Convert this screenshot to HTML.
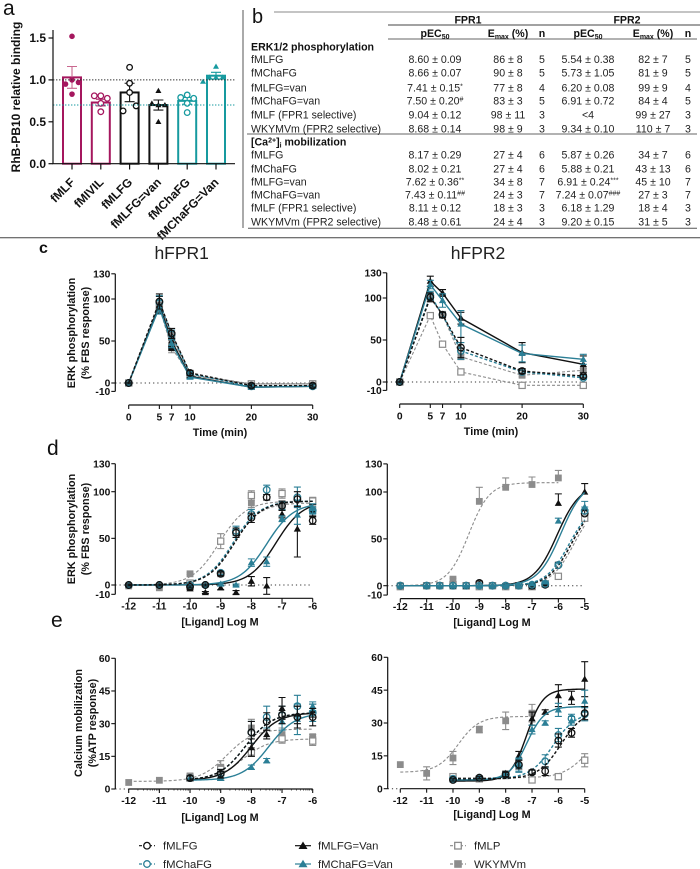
<!DOCTYPE html>
<html lang="en">
<head>
<meta charset="utf-8">
<title>Formyl peptide receptor chart</title>
<style>
html,body{margin:0;padding:0;background:#fff;width:700px;height:869px;overflow:hidden}
svg{display:block;font-family:"Liberation Sans",sans-serif}
.tb text{font-size:10.6px;fill:#222}
.tb .c{text-anchor:middle}
.tb .h{font-weight:bold;fill:#111}
.axt{font-weight:bold;font-size:10.8px;fill:#111;text-anchor:middle}
.lg{font-size:11.3px;fill:#222}
.pl{fill:#111}
</style>
</head>
<body>
<svg id="fig" width="700" height="869" viewBox="0 0 700 869" xmlns="http://www.w3.org/2000/svg">
<rect width="700" height="869" fill="#fff"/>

<text class="pl" x="3" y="15" font-size="21">a</text>
<text class="pl" x="252" y="23" font-size="20">b</text>
<text class="pl" x="39" y="253" font-size="16" font-weight="bold">c</text>
<text class="pl" x="47" y="455" font-size="21">d</text>
<text class="pl" x="51" y="627" font-size="21">e</text>

<g id="panelA">
<text transform="translate(20,97) rotate(-90)" text-anchor="middle" font-weight="bold" font-size="12" fill="#111">RhB-PB10 relative binding</text>
</g>

<line x1="243" y1="10" x2="243" y2="228" stroke="#555" stroke-width="1"/>
<line x1="0" y1="237.7" x2="700" y2="237.7" stroke="#444" stroke-width="1"/>

<g class="tb">
<line x1="274" y1="12" x2="700" y2="12" stroke="#888"/>
<line x1="388" y1="25" x2="700" y2="25" stroke="#444"/>
<line x1="388" y1="39" x2="697" y2="39" stroke="#666"/>
<line x1="247" y1="134" x2="697" y2="134" stroke="#666"/>
<line x1="248" y1="228.3" x2="697" y2="228.3" stroke="#555"/>
<text class="c h" x="468" y="23.5">FPR1</text>
<text class="c h" x="627" y="23.5">FPR2</text>
<text class="c h" x="435" y="37">pEC<tspan font-size="7" dy="2">50</tspan></text>
<text class="c h" x="508" y="37">E<tspan font-size="7" dy="2">max</tspan><tspan dy="-2"> (%)</tspan></text>
<text class="c h" x="542" y="37">n</text>
<text class="c h" x="588" y="37">pEC<tspan font-size="7" dy="2">50</tspan></text>
<text class="c h" x="653" y="37">E<tspan font-size="7" dy="2">max</tspan><tspan dy="-2"> (%)</tspan></text>
<text class="c h" x="688" y="37">n</text>
<text class="h" x="251" y="50.5">ERK1/2 phosphorylation</text>
<text class="h" x="251" y="145.7">[Ca<tspan font-size="7" dy="-3">2+</tspan><tspan dy="3">]</tspan><tspan font-size="7" dy="2">i</tspan><tspan dy="-2"> mobilization</tspan></text>

<g transform="translate(0,63)"><text x="251">fMLFG</text><text class="c" x="435">8.60 ± 0.09</text><text class="c" x="508">86 ± 8</text><text class="c" x="542">5</text><text class="c" x="588">5.54 ± 0.38</text><text class="c" x="653">82 ± 7</text><text class="c" x="688">5</text></g>
<g transform="translate(0,76.4)"><text x="251">fMChaFG</text><text class="c" x="435">8.66 ± 0.07</text><text class="c" x="508">90 ± 8</text><text class="c" x="542">5</text><text class="c" x="588">5.73 ± 1.05</text><text class="c" x="653">81 ± 9</text><text class="c" x="688">5</text></g>
<g transform="translate(0,91.7)"><text x="251">fMLFG=van</text><text class="c" x="435">7.41 ± 0.15<tspan font-size="7" dy="-3">*</tspan></text><text class="c" x="508">77 ± 8</text><text class="c" x="542">4</text><text class="c" x="588">6.20 ± 0.08</text><text class="c" x="653">99 ± 9</text><text class="c" x="688">4</text></g>
<g transform="translate(0,104.7)"><text x="251">fMChaFG=van</text><text class="c" x="435">7.50 ± 0.20<tspan font-size="7" dy="-3">#</tspan></text><text class="c" x="508">83 ± 3</text><text class="c" x="542">5</text><text class="c" x="588">6.91 ± 0.72</text><text class="c" x="653">84 ± 4</text><text class="c" x="688">5</text></g>
<g transform="translate(0,118.7)"><text x="251">fMLF (FPR1 selective)</text><text class="c" x="435">9.04 ± 0.12</text><text class="c" x="508">98 ± 11</text><text class="c" x="542">3</text><text class="c" x="588">&lt;4</text><text class="c" x="653">99 ± 27</text><text class="c" x="688">3</text></g>
<g transform="translate(0,132.4)"><text x="251">WKYMVm (FPR2 selective)</text><text class="c" x="435">8.68 ± 0.14</text><text class="c" x="508">98 ± 9</text><text class="c" x="542">3</text><text class="c" x="588">9.34 ± 0.10</text><text class="c" x="653">110 ± 7</text><text class="c" x="688">3</text></g>

<g transform="translate(0,158.7)"><text x="251">fMLFG</text><text class="c" x="435">8.17 ± 0.29</text><text class="c" x="508">27 ± 4</text><text class="c" x="542">6</text><text class="c" x="588">5.87 ± 0.26</text><text class="c" x="653">34 ± 7</text><text class="c" x="688">6</text></g>
<g transform="translate(0,172.4)"><text x="251">fMChaFG</text><text class="c" x="435">8.02 ± 0.21</text><text class="c" x="508">27 ± 4</text><text class="c" x="542">6</text><text class="c" x="588">5.88 ± 0.21</text><text class="c" x="653">43 ± 13</text><text class="c" x="688">6</text></g>
<g transform="translate(0,185.7)"><text x="251">fMLFG=van</text><text class="c" x="435">7.62 ± 0.36<tspan font-size="7" dy="-3">**</tspan></text><text class="c" x="508">34 ± 8</text><text class="c" x="542">7</text><text class="c" x="588">6.91 ± 0.24<tspan font-size="7" dy="-3">***</tspan></text><text class="c" x="653">45 ± 10</text><text class="c" x="688">7</text></g>
<g transform="translate(0,198.7)"><text x="251">fMChaFG=van</text><text class="c" x="435">7.43 ± 0.11<tspan font-size="7" dy="-3">##</tspan></text><text class="c" x="508">24 ± 3</text><text class="c" x="542">7</text><text class="c" x="588">7.24 ± 0.07<tspan font-size="7" dy="-3">###</tspan></text><text class="c" x="653">27 ± 3</text><text class="c" x="688">7</text></g>
<g transform="translate(0,211.7)"><text x="251">fMLF (FPR1 selective)</text><text class="c" x="435">8.11 ± 0.12</text><text class="c" x="508">18 ± 3</text><text class="c" x="542">3</text><text class="c" x="588">6.18 ± 1.29</text><text class="c" x="653">18 ± 4</text><text class="c" x="688">3</text></g>
<g transform="translate(0,225.7)"><text x="251">WKYMVm (FPR2 selective)</text><text class="c" x="435">8.48 ± 0.61</text><text class="c" x="508">24 ± 4</text><text class="c" x="542">3</text><text class="c" x="588">9.20 ± 0.15</text><text class="c" x="653">31 ± 5</text><text class="c" x="688">3</text></g>
</g>

<text x="181.7" y="259" text-anchor="middle" font-size="17.5" fill="#222">hFPR1</text>
<text x="478" y="259" text-anchor="middle" font-size="17.5" fill="#222">hFPR2</text>

<g>
<text class="axt" transform="translate(75,333) rotate(-90)">ERK phosphorylation</text>
<text class="axt" transform="translate(89,333) rotate(-90)">(% FBS response)</text>
<text class="axt" transform="translate(75,529) rotate(-90)">ERK phosphorylation</text>
<text class="axt" transform="translate(89,529) rotate(-90)">(% FBS response)</text>
<text class="axt" transform="translate(82,723) rotate(-90)">Calcium mobilization</text>
<text class="axt" transform="translate(96,723) rotate(-90)">(%ATP response)</text>
</g>
<g>
<text class="axt" x="220" y="436">Time (min)</text>
<text class="axt" x="491" y="435">Time (min)</text>
<text class="axt" x="220" y="625.5">[Ligand] Log M</text>
<text class="axt" x="492" y="626">[Ligand] Log M</text>
<text class="axt" x="220" y="821">[Ligand] Log M</text>
<text class="axt" x="492" y="818">[Ligand] Log M</text>
</g>

<g>
<g><line x1="139" y1="845.7" x2="155" y2="845.7" stroke="#111" stroke-width="1.2" stroke-dasharray="3 2"/><circle cx="147" cy="845.7" r="3.3" fill="#fff" stroke="#111" stroke-width="1.3"/><text class="lg" x="163" y="849.7">fMLFG</text></g>
<g><line x1="139" y1="864" x2="155" y2="864" stroke="#2b7f96" stroke-width="1.2" stroke-dasharray="3 2"/><circle cx="147" cy="864" r="3.3" fill="#fff" stroke="#2b7f96" stroke-width="1.3"/><text class="lg" x="163" y="868">fMChaFG</text></g>
<g><line x1="295" y1="845.7" x2="311" y2="845.7" stroke="#111" stroke-width="1.2"/><polygon points="303,841.5 307.5,849 298.5,849" fill="#111"/><text class="lg" x="318" y="849.7">fMLFG=Van</text></g>
<g><line x1="295" y1="864" x2="311" y2="864" stroke="#2b7f96" stroke-width="1.2"/><polygon points="303,859.8 307.5,867.3 298.5,867.3" fill="#2b7f96"/><text class="lg" x="318" y="868">fMChaFG=Van</text></g>
<g><line x1="450" y1="845.7" x2="466" y2="845.7" stroke="#8c8c8c" stroke-width="1.2" stroke-dasharray="3 2"/><rect x="454.7" y="842.4" width="6.6" height="6.6" fill="#fff" stroke="#8c8c8c" stroke-width="1.3"/><text class="lg" x="474" y="849.7">fMLP</text></g>
<g><line x1="450" y1="864" x2="466" y2="864" stroke="#8c8c8c" stroke-width="1.2" stroke-dasharray="3 2"/><rect x="454.2" y="860.2" width="7.6" height="7.6" fill="#8c8c8c"/><text class="lg" x="474" y="868">WKYMVm</text></g>
</g>

<g id="charts"></g>
</svg>

<script>
/* ---- panel a: binding bars ---- */
const ligandsA = ['fMLF','fMIVIL','fMLFG','fMLFG=van','fMChaFG','fMChaFG=Van'];
const meansA = [1.03,0.73,0.85,0.70,0.75,1.05];
const semsA = [0.13,0.04,0.11,0.06,0.04,0.04];
const pointsFMLF = [1.52,0.83,0.95,0.97,1.0];
const pointsFMIVIL = [0.81,0.81,0.78,0.62,0.72];
const pointsFMLFG = [1.15,0.96,0.85,0.69,0.63];
const pointsFMLFGvan = [0.87,0.72,0.70,0.70,0.50];
const pointsFMChaFG = [0.82,0.79,0.78,0.72,0.61];
const pointsFMChaFGvan = [1.16,1.03,1.03,1.03,0.98];
const slotsFMLF = [0,0,-1,1,0];
const slotsFMIVIL = [0,-1,1,0,0];
const slotsFMLFG = [0,0,0,1,-1];
const slotsFMLFGvan = [0,-1,1,0,0];
const slotsFMChaFG = [0,-1,1,0,0];
const slotsFMChaFGvan = [0,0,1,-1,-2];
const refLinesA = [1.0,0.7];
const ticksA = [0,0.5,1.0,1.5];

/* ---- shared ---- */
const seriesNames = ['fMLFG','fMChaFG','fMLFG=Van','fMChaFG=Van','fMLP','WKYMVm'];
const timeTicks = [0,5,7,10,20,30];
const percentTicks = [130,100,50,0,-10];
const calciumTicks = [60,45,30,15,0];
const doseTicksLeft = [-12,-11,-10,-9,-8,-7,-6];
const doseTicksRight = [-12,-11,-10,-9,-8,-7,-6,-5];

/* ---- panel c left: time course hFPR1 ---- */
const cL_fMLFG = [0,97,59,12,-3,-3];
const cL_fMChaFG = [0,96,58,11,-4,-4];
const cL_FVan = [0,93,50,8,-5,-4];
const cL_CVan = [0,90,47,7,-5,-4];
const cL_fMLP = [0,92,55,10,-1,-1];
const cL_WKY = [0,90,42,9,-1,-1];
const cL_fMLFG_err = [1,9,6,3,2,2];
const cL_fMChaFG_err = [1,8,5,2,2,2];
const cL_FVan_err = [1,10,7,2,2,2];
const cL_CVan_err = [1,8,5,2,2,2];
const cL_fMLP_err = [1,6,5,2,2,2];
const cL_WKY_err = [1,6,6,2,2,2];
const cL_darkSquares = [true,false,true,false,false,false];

/* ---- panel c right: time course hFPR2 ---- */
const cR_fMLFG = [0,101,80,41,13,7];
const cR_fMChaFG = [0,103,80,37,12,5];
const cR_FVan = [0,120,106,76,35,21];
const cR_CVan = [0,116,97,69,34,27];
const cR_fMLP = [0,79,45,12,-4,-4];
const cR_WKY = [0,100,80,30,8,14];
const cR_fMLFG_err = [1,5,3,12,3,2];
const cR_fMChaFG_err = [1,5,3,10,2,2];
const cR_FVan_err = [1,6,4,7,12,10];
const cR_CVan_err = [1,5,8,16,10,6];
const cR_fMLP_err = [1,2,2,2,1,1];
const cR_WKY_err = [1,5,4,3,2,2];

/* ---- panel d left: ERK dose response hFPR1 ---- */
const dL_doses = [-12,-11,-10,-9.5,-9,-8.5,-8,-7.5,-7,-6.5,-6];
const dL_fMLFG = [0,0,-2,0,12,56,72,94,85,92,69];
const dL_fMChaFG = [0,0,0,0,13,58,76,102,85,94,80];
const dL_FVan = [0,0,-4,-8,-3,-8,4,-1,76,60,80];
const dL_CVan = [0,0,-1,0,1,0,24,25,71,75,82];
const dL_fMLP = [null,null,2,null,47,null,96,null,98,null,90];
const dL_WKY = [-1,-3,12,null,12,null,88,null,84,null,80];
const dL_fMLFG_err = [1,1,1,1,2,5,5,3,5,8,4];
const dL_fMChaFG_err = [1,1,1,1,2,5,5,5,4,11,4];
const dL_FVan_err = [1,1,1,1,2,2,5,9,4,30,6];
const dL_CVan_err = [1,1,1,1,1,1,4,5,3,10,5];
const dL_fMLP_err = [0,0,1,0,8,0,5,0,5,0,4];
const dL_WKY_err = [1,1,1,0,2,0,5,0,4,0,3];
const dL_bottom = [0,0,0,0,0,0];
const dL_top = [90,90,90,88,90,88];
const dL_logEC50 = [-8.55,-8.6,-7.2,-7.5,-9.05,-8.6];
const dL_hill = [1,1,1,1,1,1];
const dL_from = [-12,-12,-12,-12,-12,-12];
const dL_to = [-6,-6,-6,-6,-6,-6];

/* ---- panel d right: ERK dose response hFPR2 ---- */
const dR_doses = [-12,-11,-10.5,-10,-9.5,-9,-8.5,-8,-7.5,-7,-6.5,-6,-5];
const dR_fMLFG = [0,0,0,0,0,3,0,0,0,0,1,22,77];
const dR_fMChaFG = [0,0,0,0,0,0,0,0,0,1,2,22,80];
const dR_FVan = [0,0,0,-1,-1,0,0,0,0,-1,2,88,100];
const dR_CVan = [0,0,0,0,0,0,0,0,0,2,4,69,84];
const dR_fMLP = [-1,0,0,1,0,-1,0,-1,0,-1,2,10,72];
const dR_WKY = [0,0,null,7,null,90,null,105,null,108,null,115,null];
const dR_fMLFG_err = [0,0,0,0,0,2,0,0,0,0,1,3,4];
const dR_fMChaFG_err = [0,0,0,0,0,0,0,0,0,0,1,2,4];
const dR_FVan_err = [0,0,0,0,0,0,0,0,0,0,1,10,9];
const dR_CVan_err = [0,0,0,0,0,0,0,0,0,0,1,3,6];
const dR_fMLP_err = [0,0,0,0,0,0,0,0,0,0,1,1,3];
const dR_WKY_err = [0,0,0,1,0,15,0,10,0,8,0,8,0];
const dR_bottom = [0,0,0,0,0,0];
const dR_top = [90,88,108,112,90,110];
const dR_logEC50 = [-5.5,-5.6,-6.05,-5.9,-5.4,-9.4];
const dR_hill = [1,1,1,1,1,1.1];
const dR_from = [-12,-12,-12,-12,-12,-12];
const dR_to = [-5,-5,-5,-5,-5,-6];

/* ---- panel e left: calcium hFPR1 ---- */
const eL_doses = [-12,-11,-10,-9,-8,-7.5,-7,-6.5,-6];
const eL_fMLFG = [null,null,5,7,26,31,34,33,33];
const eL_fMChaFG = [null,null,5,7,26,33,34,38,35];
const eL_FVan = [null,null,5,6,19,25,37,34,36];
const eL_CVan = [null,null,5,5,10,13,31,32,38];
const eL_fMLP = [null,null,5,9,17,null,23,null,22];
const eL_WKY = [3,4,6,10,28,null,25,null,24];
const eL_fMLFG_err = [0,0,1,2,5,4,4,5,4];
const eL_fMChaFG_err = [0,0,1,2,5,5,4,5,4];
const eL_FVan_err = [0,0,1,2,4,2,5,4,3];
const eL_CVan_err = [0,0,1,1,1,1,4,7,2];
const eL_fMLP_err = [0,0,1,2,2,0,2,0,2];
const eL_WKY_err = [0,0,1,3,4,0,3,0,1];
const eL_bottom = [4,4,4,4,4,3.5];
const eL_top = [35,35,35,35,23,27.5];
const eL_logEC50 = [-8.2,-8.2,-8.0,-7.43,-8.3,-8.8];
const eL_hill = [1,1,1,1,1,1];
const eL_from = [-10,-10,-10,-10,-10,-12];
const eL_to = [-6,-6,-6,-6,-6,-6];

/* ---- panel e right: calcium hFPR2 ---- */
const eR_doses = [-12,-11,-10,-9,-8,-7.5,-7,-6.5,-6,-5.5,-5];
const eR_fMLFG = [null,null,4,5,6.5,11,7.5,8,22,25.5,34.5];
const eR_fMChaFG = [null,null,4.5,5,6.5,10.5,7.5,12.5,24.5,32,34];
const eR_FVan = [null,null,4,4.5,7,15,32,35,42.5,41.5,50];
const eR_CVan = [null,null,4,5,6,11,27,30,36,31,40];
const eR_fMLP = [null,null,5.5,4.5,6,null,4,null,5.5,null,13];
const eR_WKY = [11,7,14,27,31,null,34.5,null,null,null,null];
const eR_fMLFG_err = [0,0,0.5,0.5,1,2,1,2,3,2,3];
const eR_fMChaFG_err = [0,0,0.5,0.5,1,3,1,3,3,2,3];
const eR_FVan_err = [0,0,0.5,0.5,1,2,3,1,5,3,8];
const eR_CVan_err = [0,0,0.5,0.5,1,3,2,1,3,2,5];
const eR_fMLP_err = [0,0,1,1,1,0,1,0,1,0,3];
const eR_WKY_err = [0,3,3,1.5,4,0,4,0,0,0,0];
const eR_bottom = [4.5,4.5,3.5,4,5,7.5];
const eR_top = [36,35,45.5,37.5,25,33];
const eR_logEC50 = [-5.9,-6.2,-7.2,-7.2,-5,-9.8];
const eR_hill = [1,1,1.4,1.3,1,1.1];
const eR_from = [-10,-10,-10,-10,-10,-12];
const eR_to = [-5,-5,-5,-5,-5,-7];

const NS = 'http://www.w3.org/2000/svg';
const BLACK = '#111';
const TEAL = '#2b7f96';
const GREY = '#8c8c8c';
const MAROON = '#a5175e';
const TEAL_A = '#169a9f';

function el(tag, attrs, parent, txt) {
  const n = document.createElementNS(NS, tag);
  for (const k in attrs) n.setAttribute(k, attrs[k]);
  if (txt !== undefined) n.textContent = txt;
  parent.appendChild(n);
  return n;
}
function slug(s) { return s.toLowerCase().replace(/[^a-z0-9]+/g, '-'); }

const charts = document.getElementById('charts');

/* panel a */
(function () {
  const root = document.getElementById('panelA');
  const yA = v => 163.7 - v * (163.7 - 38) / 1.5;
  const xA = i => 72 + i * 28.8;
  const colorsA = [MAROON, MAROON, BLACK, BLACK, TEAL_A, TEAL_A];
  const allPoints = [pointsFMLF, pointsFMIVIL, pointsFMLFG, pointsFMLFGvan, pointsFMChaFG, pointsFMChaFGvan];
  const allSlots = [slotsFMLF, slotsFMIVIL, slotsFMLFG, slotsFMLFGvan, slotsFMChaFG, slotsFMChaFGvan];
  const markerKind = ['dot', 'ring', 'ring', 'tri', 'ring', 'tri'];

  ligandsA.forEach((name, i) => {
    const g = el('g', {}, root);
    
    
    const c = colorsA[i], x = xA(i);
    const bar = el('rect', {x: x - 9, y: yA(meansA[i]), width: 18, height: yA(0) - yA(meansA[i]), fill: '#fff', stroke: c, 'stroke-width': 2}, g);
    
    
    const errC = i === 0 ? '#c9688f' : c;
    const hi = yA(meansA[i] + semsA[i]), lo = yA(meansA[i] - semsA[i]);
    el('path', {d: `M${x} ${hi}V${lo}M${x - 5} ${hi}H${x + 5}M${x - 5} ${lo}H${x + 5}`, stroke: errC, 'stroke-width': 1.1, fill: 'none'}, g);
    allPoints[i].forEach((v, j) => {
      const px = x + allSlots[i][j] * 6.5, py = yA(v);
      let m;
      if (markerKind[i] === 'dot') m = el('circle', {cx: px, cy: py, r: 2.8, fill: c}, g);
      else if (markerKind[i] === 'ring') m = el('circle', {cx: px, cy: py, r: 2.8, fill: '#fff', stroke: c, 'stroke-width': 1.3}, g);
      else m = el('polygon', {points: `${px},${py - 3} ${px + 3},${py + 2.2} ${px - 3},${py + 2.2}`, fill: c}, g);
      
      
    });
  });

  refLinesA.forEach((v, i) => {
    const l = el('line', {x1: 53, x2: 235, y1: yA(v), y2: yA(v), stroke: i === 0 ? '#333' : TEAL_A, 'stroke-width': 1, 'stroke-dasharray': '1.4 1.6'}, root);
    
    
  });

  const axis = el('path', {d: 'M53 30V163.7H235', stroke: '#111', 'stroke-width': 1.2, fill: 'none'}, root);
  
  
  ticksA.forEach(v => {
    el('line', {x1: 48.5, x2: 53, y1: yA(v), y2: yA(v), stroke: '#111', 'stroke-width': 1.2}, root);
    const t = el('text', {x: 46, y: yA(v) + 4.2, 'text-anchor': 'end', 'font-weight': 'bold', 'font-size': 12, fill: '#111'}, root, v.toFixed(1));
    
    
  });
  ligandsA.forEach((name, i) => {
    el('line', {x1: xA(i), x2: xA(i), y1: 163.7, y2: 169.5, stroke: '#111', 'stroke-width': 1.2}, root);
    const t = el('text', {transform: `translate(${xA(i) + 3.5},183) rotate(-45)`, 'text-anchor': 'end', 'font-weight': 'bold', 'font-size': 12, fill: '#111'}, root, name);
    
    
  });
})();

/* line panels */
const seriesColor = [BLACK, TEAL, BLACK, TEAL, GREY, GREY];
const seriesDash = ['3 2', '3 2', null, null, '3 2', '3 2'];
const circlesOnTop = [5, 4, 2, 3, 1, 0];
const tealOnTop = [5, 4, 2, 0, 3, 1];

function drawMarker(g, i, px, py, dark) {
  const c = seriesColor[i];
  let m;
  if (i < 2) m = el('circle', {cx: px, cy: py, r: 3.3, fill: 'none', stroke: c, 'stroke-width': 1.3}, g);
  else if (i < 4) m = el('polygon', {points: `${px},${py - 3.6} ${px + 3.6},${py + 2.6} ${px - 3.6},${py + 2.6}`, fill: c}, g);
  else if (i === 4) m = el('rect', {x: px - 3.1, y: py - 3.1, width: 6.2, height: 6.2, fill: '#fff', stroke: c, 'stroke-width': 1.2}, g);
  else m = el('rect', {x: px - 3.4, y: py - 3.4, width: 6.8, height: 6.8, fill: dark ? BLACK : c}, g);
  
  
}

function drawPanel(p) {
  const root = el('g', {}, charts);
  
  
  const X = v => p.xRange[0] + (v - p.xDomain[0]) * (p.xRange[1] - p.xRange[0]) / (p.xDomain[1] - p.xDomain[0]);
  const Y = v => p.y0 + (p.yHi - p.y0) * v / p.vHi;

  const zero = el('line', {x1: p.axisX, x2: p.zeroEnd || p.xRange[1], y1: Y(0), y2: Y(0), stroke: '#333', 'stroke-width': 1, 'stroke-dasharray': '1.2 3'}, root);
  
  

  (p.order || circlesOnTop).forEach(i => {
    const g = el('g', {}, root);
    
    
    const vals = p.values[i], errs = p.errors[i], c = seriesColor[i];
    let d = '';
    if (p.fit) {
      const lo = p.fit.from[i], hi = p.fit.to[i];
      for (let s = 0; s <= 80; s++) {
        const x = lo + (hi - lo) * s / 80;
        const v = p.fit.bottom[i] + (p.fit.top[i] - p.fit.bottom[i]) / (1 + Math.pow(10, (p.fit.logEC50[i] - x) * p.fit.hill[i]));
        d += (s ? 'L' : 'M') + X(x).toFixed(2) + ' ' + Y(v).toFixed(2);
      }
    } else {
      p.xs.forEach((x, k) => { d += (k ? 'L' : 'M') + X(x).toFixed(2) + ' ' + Y(vals[k]).toFixed(2); });
    }
    const attrs = {d: d, fill: 'none', stroke: c, 'stroke-width': i === 4 || i === 5 ? 1.1 : 1.4};
    if (seriesDash[i]) attrs['stroke-dasharray'] = seriesDash[i];
    const line = el('path', attrs, g);
    
    

    p.xs.forEach((x, k) => {
      if (vals[k] === null) return;
      const px = X(x), py = Y(vals[k]);
      if (errs[k]) {
        const hi = Y(vals[k] + errs[k]);
        let e = `M${px} ${py}V${hi}M${px - 3.5} ${hi}H${px + 3.5}`;
        if (!p.upperOnly) {
          const lo = Y(vals[k] - errs[k]);
          e += `M${px} ${py}V${lo}M${px - 3.5} ${lo}H${px + 3.5}`;
        }
        const eb = el('path', {d: e, stroke: c, 'stroke-width': 1.1, fill: 'none'}, g);
        
        
      }
      drawMarker(g, i, px, py, i === 5 && p.darkSquares && p.darkSquares[k]);
    });
  });

  const top = p.yTicks[0], bot = p.yTicks[p.yTicks.length - 1];
  const ya = el('line', {x1: p.axisX, x2: p.axisX, y1: Y(top), y2: Y(bot), stroke: '#111', 'stroke-width': 1.2}, root);
  
  
  p.yTicks.forEach(v => {
    el('line', {x1: p.axisX - 4, x2: p.axisX, y1: Y(v), y2: Y(v), stroke: '#111', 'stroke-width': 1.1}, root);
    const t = el('text', {x: p.axisX - 5, y: Y(v) + 3.6, 'text-anchor': 'end', 'font-weight': 'bold', 'font-size': 10.3, fill: '#111'}, root, String(v));
    
    
  });

  const xa = el('line', {x1: X(p.xTicks[0]), x2: X(p.xTicks[p.xTicks.length - 1]), y1: p.xAxisY, y2: p.xAxisY, stroke: '#111', 'stroke-width': 1.2}, root);
  
  
  p.xTicks.forEach(v => {
    el('line', {x1: X(v), x2: X(v), y1: p.xAxisY, y2: p.xAxisY + 4, stroke: '#111', 'stroke-width': 1.1}, root);
    const t = el('text', {x: X(v), y: p.xLabelY, 'text-anchor': 'middle', 'font-weight': 'bold', 'font-size': 10.3, fill: '#111'}, root, String(v));
    
    
  });
  if (p.minorTicks) {
    for (let k = 0; k < p.xTicks.length - 1; k++) {
      for (let m = 2; m < 10; m++) {
        const mx = X(p.xTicks[k] + Math.log10(m));
        el('line', {x1: mx, x2: mx, y1: p.xAxisY, y2: p.xAxisY + 1.6, stroke: '#111', 'stroke-width': 0.6}, root);
      }
    }
  }
}

drawPanel({id: 'time-hfpr1', xs: timeTicks, xDomain: [0, 30], xRange: [128.7, 312.7], y0: 383, yHi: 299, vHi: 100, axisX: 115.3,
  xAxisY: 405, xLabelY: 420.5, xTicks: timeTicks, yTicks: percentTicks, darkSquares: cL_darkSquares,
  values: [cL_fMLFG, cL_fMChaFG, cL_FVan, cL_CVan, cL_fMLP, cL_WKY],
  errors: [cL_fMLFG_err, cL_fMChaFG_err, cL_FVan_err, cL_CVan_err, cL_fMLP_err, cL_WKY_err]});

drawPanel({id: 'time-hfpr2', xs: timeTicks, xDomain: [0, 30], xRange: [399.7, 583.3], y0: 382, yHi: 298, vHi: 100, axisX: 386.7,
  xAxisY: 404, xLabelY: 419.5, xTicks: timeTicks, yTicks: percentTicks,
  values: [cR_fMLFG, cR_fMChaFG, cR_FVan, cR_CVan, cR_fMLP, cR_WKY],
  errors: [cR_fMLFG_err, cR_fMChaFG_err, cR_FVan_err, cR_CVan_err, cR_fMLP_err, cR_WKY_err]});

drawPanel({id: 'erk-dose-hfpr1', xs: dL_doses, xDomain: [-12, -6], xRange: [128.7, 312.7], y0: 585, yHi: 491.7, vHi: 100, axisX: 115.3,
  xAxisY: 598.3, xLabelY: 609.5, xTicks: doseTicksLeft, yTicks: percentTicks,
  values: [dL_fMLFG, dL_fMChaFG, dL_FVan, dL_CVan, dL_fMLP, dL_WKY],
  errors: [dL_fMLFG_err, dL_fMChaFG_err, dL_FVan_err, dL_CVan_err, dL_fMLP_err, dL_WKY_err],
  fit: {bottom: dL_bottom, top: dL_top, logEC50: dL_logEC50, hill: dL_hill, from: dL_from, to: dL_to}});

drawPanel({id: 'erk-dose-hfpr2', xs: dR_doses, xDomain: [-12, -5], xRange: [400.3, 584.7], y0: 585.7, yHi: 492, vHi: 100, axisX: 387.3,
  xAxisY: 598.6, xLabelY: 610, xTicks: doseTicksRight, yTicks: percentTicks, upperOnly: true, order: tealOnTop,
  values: [dR_fMLFG, dR_fMChaFG, dR_FVan, dR_CVan, dR_fMLP, dR_WKY],
  errors: [dR_fMLFG_err, dR_fMChaFG_err, dR_FVan_err, dR_CVan_err, dR_fMLP_err, dR_WKY_err],
  fit: {bottom: dR_bottom, top: dR_top, logEC50: dR_logEC50, hill: dR_hill, from: dR_from, to: dR_to}});

drawPanel({id: 'calcium-dose-hfpr1', xs: eL_doses, xDomain: [-12, -6], xRange: [128.7, 312.7], y0: 789, yHi: 658.3, vHi: 60, axisX: 115.3, zeroEnd: 128.7,
  xAxisY: 789, xLabelY: 804, xTicks: doseTicksLeft, yTicks: calciumTicks, minorTicks: true,
  values: [eL_fMLFG, eL_fMChaFG, eL_FVan, eL_CVan, eL_fMLP, eL_WKY],
  errors: [eL_fMLFG_err, eL_fMChaFG_err, eL_FVan_err, eL_CVan_err, eL_fMLP_err, eL_WKY_err],
  fit: {bottom: eL_bottom, top: eL_top, logEC50: eL_logEC50, hill: eL_hill, from: eL_from, to: eL_to}});

drawPanel({id: 'calcium-dose-hfpr2', xs: eR_doses, xDomain: [-12, -5], xRange: [400.3, 584.7], y0: 788.7, yHi: 657.3, vHi: 60, axisX: 387.7, zeroEnd: 400.3,
  xAxisY: 788.7, xLabelY: 804, xTicks: doseTicksRight, yTicks: calciumTicks,
  values: [eR_fMLFG, eR_fMChaFG, eR_FVan, eR_CVan, eR_fMLP, eR_WKY],
  errors: [eR_fMLFG_err, eR_fMChaFG_err, eR_FVan_err, eR_CVan_err, eR_fMLP_err, eR_WKY_err],
  fit: {bottom: eR_bottom, top: eR_top, logEC50: eR_logEC50, hill: eR_hill, from: eR_from, to: eR_to}});
</script>
</body>
</html>
